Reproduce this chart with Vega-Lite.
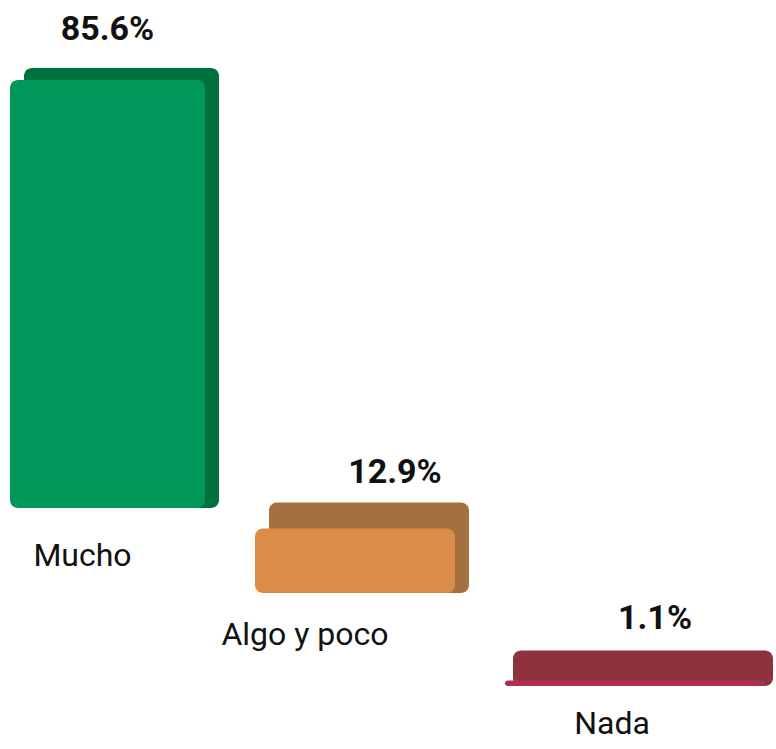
{
  "$schema": "https://vega.github.io/schema/vega-lite/v6.json",
  "padding": {"left": 10, "top": 10, "right": 0, "bottom": 0},
  "background": "white",
  "bounds": "flush",
  "spacing": 50,
  "config": {"view": {"stroke": null}, "font": "Roboto"},
  "data": {"values": [
    {"categoria": "Mucho", "porcentaje": 0.856},
    {"categoria": "Algo y poco", "porcentaje": 0.129},
    {"categoria": "Nada", "porcentaje": 0.011}
  ]},
  "hconcat": [
    {
      "width": 195, "height": 498,
      "transform": [{"filter": "datum.categoria === 'Mucho'"}],
      "encoding": {
        "x": {"field": "categoria", "type": "nominal", "scale": {"paddingInner": 0, "paddingOuter": 0},
          "axis": {"title": null, "domain": false, "ticks": false, "labelAngle": 0, "labelFontSize": 32, "labelPadding": 32, "labelOffset": -25, "labelColor": "#111111"}},
        "y": {"field": "porcentaje", "type": "quantitative", "stack": null, "scale": {"domain": [0, 0.996], "nice": false}, "axis": null}
      },
      "layer": [
        {"mark": {"type": "bar", "color": "#00703F", "xOffset": 14, "yOffset": -12, "y2Offset": -12, "cornerRadius": 8}},
        {"mark": {"type": "bar", "color": "#00985A", "cornerRadius": 8}},
        {"mark": {"type": "text", "fontSize": 34, "fontWeight": "bold", "dy": -50, "baseline": "middle", "color": "#111111"},
          "encoding": {"text": {"field": "porcentaje", "type": "quantitative", "format": ".1%"}}}
      ]
    },
    {
      "width": 200, "height": 583,
      "transform": [{"filter": "datum.categoria === 'Algo y poco'"}],
      "encoding": {
        "x": {"field": "categoria", "type": "nominal", "scale": {"paddingInner": 0, "paddingOuter": 0},
          "axis": {"title": null, "domain": false, "ticks": false, "labelAngle": 0, "labelFontSize": 32, "labelPadding": 26, "labelOffset": -50, "labelColor": "#111111"}},
        "y": {"field": "porcentaje", "type": "quantitative", "stack": null, "scale": {"domain": [0, 1.166], "nice": false}, "axis": null}
      },
      "layer": [
        {"mark": {"type": "bar", "color": "#A5703F", "xOffset": 14, "yOffset": -26, "y2Offset": -10, "cornerRadius": 8}},
        {"mark": {"type": "bar", "color": "#DA8C48", "cornerRadius": 8}},
        {"mark": {"type": "text", "fontSize": 34, "fontWeight": "bold", "dy": -56, "dx": 40, "baseline": "middle", "color": "#111111"},
          "encoding": {"text": {"field": "porcentaje", "type": "quantitative", "format": ".1%"}}}
      ]
    },
    {
      "width": 260, "height": 676,
      "transform": [{"filter": "datum.categoria === 'Nada'"}],
      "encoding": {
        "x": {"field": "categoria", "type": "nominal", "scale": {"paddingInner": 0, "paddingOuter": 0},
          "axis": {"title": null, "domain": false, "ticks": false, "labelAngle": 0, "labelFontSize": 32, "labelPadding": 22, "labelOffset": -23, "labelColor": "#111111"}},
        "y": {"field": "porcentaje", "type": "quantitative", "stack": null, "scale": {"domain": [0, 1.352], "nice": false}, "axis": null}
      },
      "layer": [
        {"mark": {"type": "bar", "color": "#8E323E", "xOffset": 8, "yOffset": -30, "y2Offset": -4, "cornerRadius": 8}},
        {"mark": {"type": "bar", "color": "#B0304A", "cornerRadius": 3}},
        {"mark": {"type": "text", "fontSize": 34, "fontWeight": "bold", "dy": -62, "dx": 20, "baseline": "middle", "color": "#111111"},
          "encoding": {"text": {"field": "porcentaje", "type": "quantitative", "format": ".1%"}}}
      ]
    }
  ]
}
